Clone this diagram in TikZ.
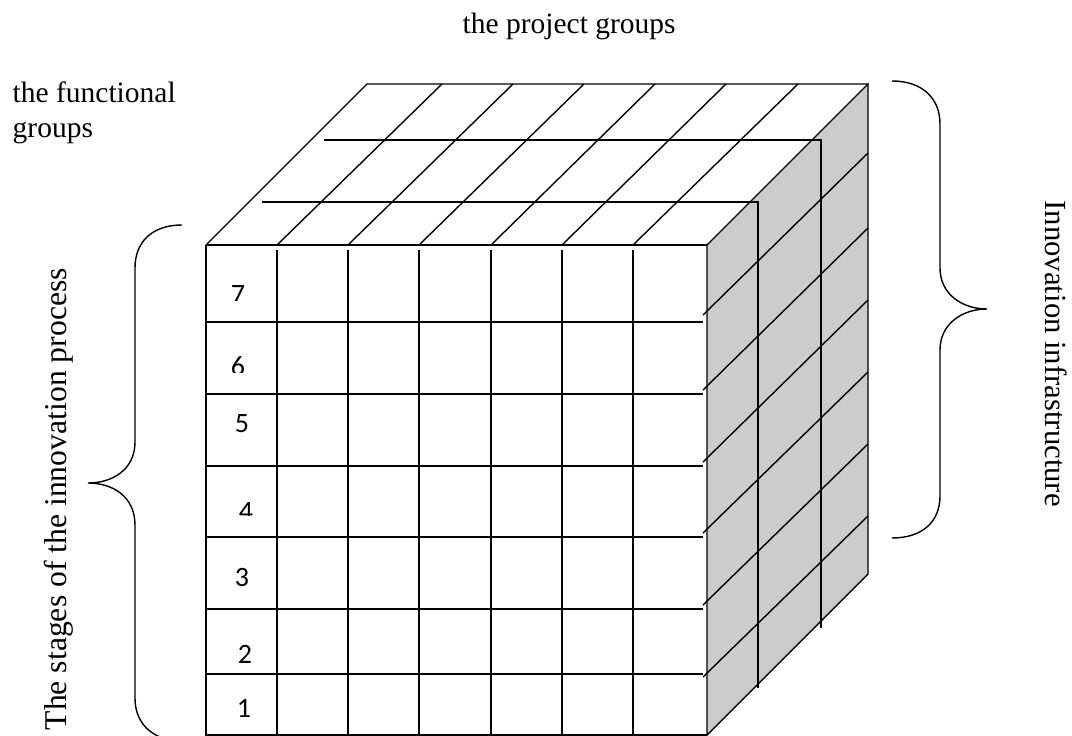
\documentclass[tikz,border=0pt]{standalone}
\usepackage{fontspec}
\setmainfont{Liberation Serif}
\newfontfamily\digitfont{Carlito}
\definecolor{faceg}{HTML}{CCCCCC}
\begin{document}
\begin{tikzpicture}[x=1pt,y=-1pt,line width=1.4pt,
  lbl/.style={inner sep=0pt, font=\fontsize{29.5}{35}\selectfont},
  rlbl/.style={inner sep=0pt},
  dig/.style={inner sep=0pt, font=\digitfont\fontsize{28}{32}\selectfont},
  gridline/.style={draw=black, line width=1.4pt},
  brace/.style={draw=black, line width=1.4pt}]
\useasboundingbox (0,0) rectangle (1072,736);

% ---------- right face ----------
\fill[faceg] (707,245) -- (868,84) -- (868,574) -- (707,735) -- cycle;
\draw[gridline] (707,245) -- (868,84) -- (868,574) -- (707,735) -- cycle;
% right face diagonals
\foreach \a/\b in {315/153, 390/228, 462/300, 533/372, 605/444, 677/516}
  \draw[gridline] (703,\a) -- (868,\b);
% depth lines (top face + right face)
\draw[gridline] (262,202) -- (758,202) -- (758,688);
\draw[gridline] (324,140) -- (821,140) -- (821,628);

% ---------- top face ----------
\draw[gridline] (206,245) -- (367,84) -- (868,84);
\draw[gridline] (206,245) -- (707,245);
\foreach \a/\b in {277/442, 348/513, 419/584, 491/655, 562/726, 633/798}
  \draw[gridline] (\a,245) -- (\b,84);

% ---------- front face ----------
\draw[gridline] (206,245) -- (206,735) -- (707,735);
\foreach \x in {277, 348, 419, 491, 562, 633}
  \draw[gridline] (\x,250) -- (\x,735);
\foreach \y in {322, 394, 466, 537, 609, 674}
  \draw[gridline] (206,\y) -- (703,\y);

% ---------- row numbers ----------
\begin{scope}
  \clip (207,250) rectangle (276,300);
  \node[dig] (d7) at (238,295) {7};
\end{scope}
\begin{scope}
  \clip (207,323) rectangle (276,372);
  \node[dig] (d6) at (238,366) {6};
\end{scope}
\node[dig] (d5) at (242,424) {5};
\begin{scope}
  \clip (207,467) rectangle (276,515);
  \node[dig] (d4) at (246,512) {4};
\end{scope}
\node[dig] (d3) at (242,578) {3};
\node[dig] (d2) at (245,654) {2};
\node[dig] (d1) at (244,708) {1};

% ---------- braces ----------
\draw[brace] (182,225) .. controls (152,225) and (135,242) .. (135,268)
  -- (135,442) .. controls (135,470) and (112,483) .. (88,483)
  .. controls (112,483) and (135,496) .. (135,525)
  -- (135,698) .. controls (135,722) and (150,736) .. (170,740);
\draw[brace] (892,81) .. controls (922,81) and (940,98) .. (940,124)
  -- (940,268) .. controls (940,294) and (962,309) .. (987,309)
  .. controls (962,309) and (940,324) .. (940,350)
  -- (940,496) .. controls (940,522) and (922,538) .. (892,538);

% ---------- labels ----------
\node[lbl, anchor=base west] (proj) at (462,33) {the project groups};
\node[lbl, anchor=base west] (func1) at (12,102) {the functional};
\node[lbl, anchor=base west] (func2) at (12,137) {groups};
\node[rlbl, font=\fontsize{31.7}{36}\selectfont, anchor=base west, rotate=90] (stages) at (66,731) {The stages of the innovation process};
\node[rlbl, font=\fontsize{30.7}{36}\selectfont, anchor=base west, rotate=-90] (infra) at (1045,200) {Innovation infrastructure};
\end{tikzpicture}
\end{document}
